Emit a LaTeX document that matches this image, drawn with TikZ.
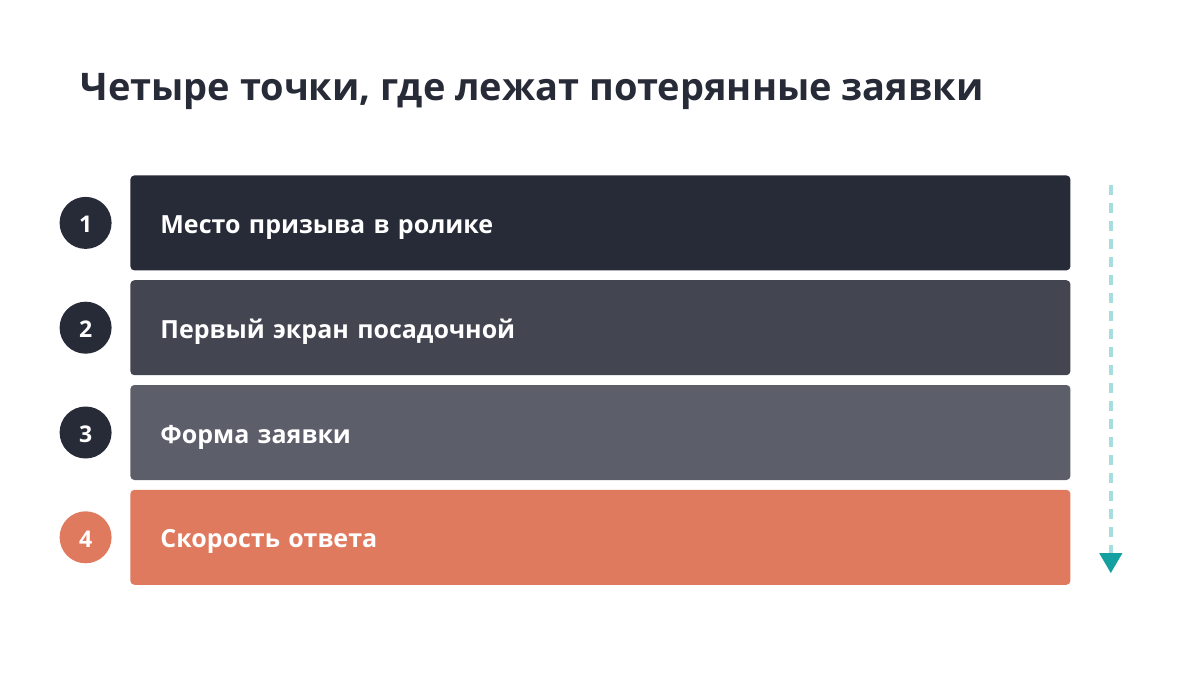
\documentclass[tikz,border=0pt]{standalone}
\usepackage{fontspec}
\setmainfont{Open Sans}
\usetikzlibrary{positioning}
\usetikzlibrary{arrows.meta}
\definecolor{inkdark}{HTML}{272B38}
\definecolor{inkmid}{HTML}{434550}
\definecolor{inklight}{HTML}{5C5E6A}
\definecolor{accent}{HTML}{E07A5E}
\definecolor{flowline}{HTML}{A8DDDF}
\definecolor{flowtip}{HTML}{14A0A0}

\begin{document}
\begin{tikzpicture}[node distance=4.5pt,
  bar/.style={text=white,font=\bfseries\fontsize{12.5}{14}\selectfont,text width=440pt,inner xsep=15pt,
    text height=10.5pt,text depth=0pt,minimum height=47.5pt,align=left,rounded corners=2pt},
  numdot/.style={circle,minimum size=26pt,inner sep=0pt,text height=10pt,text depth=0pt,
    text=white,font=\bfseries\fontsize{11.5}{12}\selectfont}]
  \useasboundingbox (0,0) rectangle (600pt,-337.5pt);
  \node[anchor=base west,text=inkdark,font=\bfseries\fontsize{19}{22}\selectfont,inner sep=0pt](title) at (40pt,-50pt) {Четыре точки, где лежат потерянные заявки};
  \node[bar,fill=inkdark,anchor=north west](bar1) at (65pt,-87.5pt) {Место призыва в ролике};
  \node[bar,fill=inkmid,below= of bar1](bar2) {Первый экран посадочной};
  \node[bar,fill=inklight,below= of bar2](bar3) {Форма заявки};
  \node[bar,fill=accent,below= of bar3](bar4) {Скорость ответа};
  \node[numdot,fill=inkdark,left=9pt of bar1](num1) {1};
  \node[numdot,fill=inkdark,left=9pt of bar2](num2) {2};
  \node[numdot,fill=inkdark,left=9pt of bar3](num3) {3};
  \node[numdot,fill=accent,left=9pt of bar4](num4) {4};
  \coordinate (flowtop) at ([xshift=20pt,yshift=-5pt]bar1.north east);
  \coordinate (flowend) at ([xshift=20pt,yshift=6pt]bar4.south east);
  \draw[flowline,line width=2pt,dash pattern=on 5pt off 4pt,-{Triangle[length=10pt,width=11pt,color=flowtip]}] (flowtop)--(flowend);
\end{tikzpicture}
\end{document}
